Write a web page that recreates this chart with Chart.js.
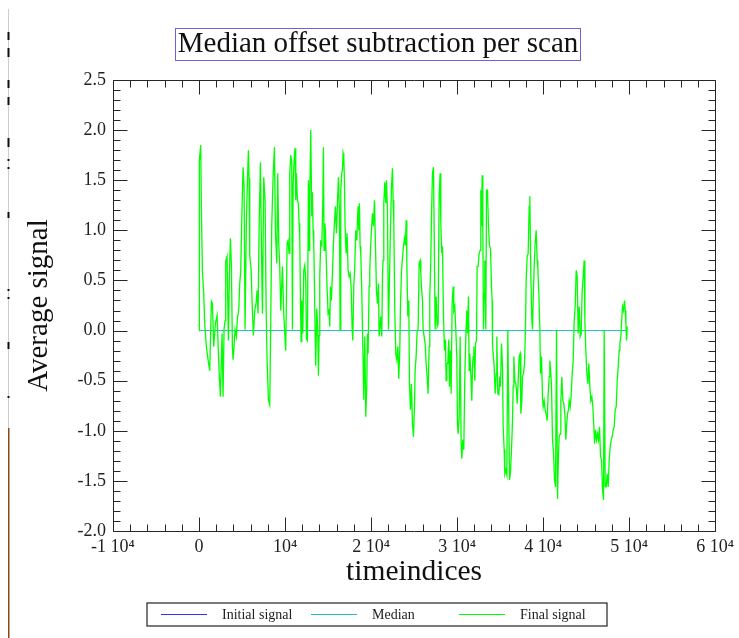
<!DOCTYPE html>
<html>
<head>
<meta charset="utf-8">
<script src="https://cdn.jsdelivr.net/npm/chart.js@4.4.1/dist/chart.umd.min.js"></script>
<style>
  html, body { margin: 0; padding: 0; background: #fff; }
  canvas { display: block; }
</style>
</head>
<body>
<canvas id="chart" width="739" height="638"></canvas>
<script>
var chartTitle = 'Median offset subtraction per scan';
var xTitle = 'timeindices';
var yTitle = 'Average signal';
var seriesNames = ['Initial signal', 'Median', 'Final signal'];
var seriesColors = ['#3030ff', '#22bcbc', '#00ff00'];

var xTickLabels = ['-1 10\u2074', '0', '10\u2074', '2 10\u2074', '3 10\u2074', '4 10\u2074', '5 10\u2074', '6 10\u2074'];
var yTickLabels = ['-2.0', '-1.5', '-1.0', '-0.5', '0.0', '0.5', '1.0', '1.5', '2.0', '2.5'];

// time index of each sample
var timeIndex = [
  0, 40, 198, 275, 392, 547, 663, 857, 1050, 1244,
  1438, 1555, 1710, 1904, 2097, 2330, 2485, 2679, 2795, 2911,
  3028, 3105, 3260, 3415, 3532, 3648, 3765, 3881, 3958, 4075,
  4191, 4346, 4462, 4618, 4734, 4850, 4966, 5121, 5237, 5354,
  5509, 5625, 5742, 5819, 5897, 6052, 6207, 6323, 6478, 6634,
  6750, 6866, 6982, 7137, 7254, 7370, 7525, 7680, 7796, 7912,
  8068, 8223, 8339, 8455, 8610, 8766, 8882, 9037, 9153, 9270,
  9386, 9502, 9696, 9851, 9967, 10083, 10239, 10355, 10471, 10548,
  10665, 10781, 10859, 10936, 11052, 11168, 11246, 11324, 11440, 11557,
  11633, 11711, 11789, 11866, 11944, 12060, 12177, 12293, 12409, 12487,
  12603, 12720, 12797, 12874, 12991, 13107, 13185, 13262, 13340, 13417,
  13495, 13572, 13689, 13805, 13883, 13960, 14037, 14154, 14270, 14386,
  14464, 14541, 14619, 14697, 14774, 14890, 15006, 15123, 15200, 15278,
  15394, 15511, 15627, 15744, 15860, 15976, 16093, 16209, 16325, 16402,
  16480, 16596, 16674, 16751, 16829, 16906, 16984, 17100, 17216, 17332,
  17449, 17565, 17681, 17798, 17875, 17992, 18108, 18224, 18341, 18418,
  18495, 18573, 18651, 18728, 18806, 18922, 19000, 19077, 19154, 19271,
  19387, 19503, 19581, 19658, 19775, 19852, 19930, 20046, 20163, 20279,
  20395, 20512, 20628, 20744, 20861, 20938, 21132, 21248, 21326, 21403,
  21481, 21597, 21713, 21791, 21907, 22024, 22256, 22373, 22489, 22566,
  22644, 22760, 22876, 22993, 23109, 23225, 23341, 23419, 23536, 23652,
  23768, 23884, 24001, 24078, 24156, 24272, 24388, 24466, 24582, 24699,
  24815, 24931, 25048, 25124, 25241, 25357, 25473, 25590, 25706, 25784,
  25861, 25978, 26055, 26171, 26287, 26404, 26520, 26636, 26753, 26830,
  26947, 27024, 27141, 27257, 27334, 27451, 27567, 27683, 27799, 27916,
  28032, 28110, 28226, 28304, 28420, 28536, 28653, 28730, 28808, 28924,
  29040, 29118, 29234, 29311, 29428, 29544, 29622, 29738, 29854, 29971,
  30048, 30125, 30242, 30358, 30474, 30552, 30668, 30784, 30901, 31017,
  31133, 31211, 31328, 31404, 31482, 31599, 31715, 31793, 31870, 31948,
  32064, 32142, 32258, 32335, 32451, 32568, 32684, 32762, 32840, 32917,
  32994, 33072, 33149, 33227, 33343, 33421, 33537, 33654, 33770, 33886,
  34003, 34079, 34119, 34196, 34312, 34428, 34545, 34622, 34739, 34855,
  34971, 35049, 35166, 35282, 35359, 35475, 35553, 35669, 35786, 35902,
  36096, 36212, 36329, 36445, 36522, 36600, 36716, 36832, 36910, 36987,
  37104, 37220, 37336, 37414, 37530, 37608, 37724, 37840, 37957, 38034,
  38150, 38266, 38383, 38460, 38577, 38693, 38771, 38848, 38964, 39081,
  39197, 39313, 39391, 39507, 39624, 39701, 39818, 39934, 40011, 40127,
  40244, 40360, 40476, 40593, 40709, 40786, 40903, 40981, 41097, 41213,
  41330, 41446, 41562, 41678, 41795, 41872, 41988, 42066, 42182, 42298,
  42415, 42531, 42647, 42725, 42841, 42958, 43035, 43151, 43267, 43384,
  43500, 43616, 43733, 43849, 43965, 44081, 44198, 44314, 44430, 44547,
  44663, 44779, 44857, 44973, 45089, 45206, 45322, 45438, 45555, 45671,
  45787, 45904, 45981, 46097, 46214, 46330, 46446, 46563, 46679, 46795,
  46912, 47028, 47105, 47221, 47338, 47454, 47570, 47687, 47803, 47919,
  48035, 48152, 48268, 48384, 48501, 48617, 48733, 48850, 48927, 49043,
  49121, 49237, 49354, 49470, 49547, 49625, 49702, 49780
];

// average signal after median subtraction
var finalSignal = [
  0.00, 1.70, 1.85, 1.22, 0.60, 0.37, 0.07, -0.16, -0.29, -0.40,
  0.29, 0.27, -0.16, 0.07, 0.15, -0.40, -0.66, -0.03, -0.66, 0.01,
  0.10, 0.69, 0.74, -0.10, 0.55, 0.92, 0.65, -0.16, -0.29, -0.16,
  0.01, -0.06, 0.12, 0.20, 0.47, 0.59, 1.10, 1.63, 1.44, 0.01,
  1.10, 1.47, 1.80, 1.52, 0.75, 0.62, 0.20, -0.05, 0.20, 0.27,
  0.40, 0.17, 1.00, 1.68, 0.87, 0.17, 1.53, 1.30, 0.27, -0.29,
  -0.69, -0.74, 0.09, 1.04, 1.53, 1.83, 1.00, 0.67, 1.57, 0.87,
  0.64, 0.20, 0.64, 0.17, -0.03, -0.20, 0.87, 0.90, 0.77, 1.57,
  1.75, 1.67, 0.01, 1.44, 1.70, 1.82, 1.30, 1.57, 1.30, 1.27,
  1.07, 0.94, 0.34, -0.11, 0.30, -0.03, 0.60, 0.65, 0.50, -0.08,
  -0.10, 1.50, 0.80, 1.34, 2.00, 1.14, 1.38, 1.00, 0.87, 0.47,
  0.01, -0.35, 0.22, 0.01, -0.45, -0.05, 0.54, 0.90, 0.84, 1.24,
  1.83, 0.80, 1.07, 1.00, 0.77, 0.42, 0.17, 0.20, 0.04, 0.44,
  0.30, 0.57, 0.87, 1.07, 1.24, 0.97, 1.27, 1.53, 1.17, 0.01,
  1.40, 1.57, 1.60, 1.77, 1.73, 1.50, 1.04, 0.77, 0.97, 0.60,
  0.54, 0.57, 0.44, 0.04, -0.10, 0.44, 0.64, 1.00, 0.90, 1.10,
  1.24, 1.00, 1.27, 0.84, 0.77, 0.40, 0.04, -0.30, -0.69, -0.06,
  -0.86, -0.56, -0.03, -0.23, 0.44, 0.60, 0.80, 1.00, 1.17, 1.04,
  1.30, 0.87, 0.40, 0.27, 0.47, -0.06, 0.14, -0.06, 0.54, 0.70,
  1.27, 1.48, 1.27, 1.50, 1.20, 0.01, 1.00, 1.43, 1.62, 1.30,
  1.08, 0.20, -0.23, -0.29, -0.16, -0.48, -0.19, 0.24, 0.59, 0.72,
  0.84, 0.92, 0.85, 1.10, 0.70, 0.14, 0.30, -0.53, -0.79, -0.53,
  -0.93, -1.06, -0.76, -0.40, -0.26, -0.01, 0.01, 0.67, 0.70, 0.57,
  0.44, 0.30, 0.01, -0.06, -0.13, -0.33, -0.46, -0.63, -0.16, 0.34,
  0.70, 1.13, 1.57, 1.63, 1.04, 0.01, 0.34, 0.04, 0.07, 1.34,
  1.57, 1.07, 0.77, 0.84, 0.14, -0.20, -0.09, -0.50, -0.33, -0.33,
  -0.09, -0.56, -0.20, -0.63, 0.27, 0.44, 0.20, 0.24, 0.01, -0.26,
  -0.93, -1.03, -0.86, -0.06, -1.13, -1.28, -1.09, -1.19, -0.46, -0.06,
  0.20, -0.03, 0.34, -0.40, -0.23, -0.43, -0.70, -0.36, -0.26, -0.16,
  -0.50, -0.13, -0.10, 0.64, 0.64, 0.77, 0.80, 1.40, 1.04, 1.55,
  1.04, 0.01, 0.37, 0.70, 0.01, 1.40, 1.40, 1.04, 0.84, 0.82,
  0.44, 0.30, -0.13, -0.23, -0.36, -0.63, -0.43, -0.06, -0.63, -0.64,
  -0.46, -0.56, -0.13, -0.36, -0.96, -1.19, -1.43, -1.39, -1.44, 0.00,
  -1.49, -1.41, -1.19, -0.90, -0.56, -0.26, -0.50, -0.53, -0.60, -0.73,
  -0.50, -0.26, -0.23, -0.83, -0.70, -0.46, -0.43, -0.33, 0.04, 0.50,
  0.74, 0.77, 1.24, 1.34, 0.54, 0.10, 0.01, 0.30, 0.64, 0.87,
  1.00, 0.70, 0.62, 0.37, 0.01, -0.43, -0.26, -0.66, -0.76, -0.70,
  -0.80, -0.83, -0.90, -0.63, -0.46, -0.30, -0.43, -0.56, -1.09, -1.23,
  -1.49, -1.56, 0.00, -1.68, -1.23, -1.06, -1.03, -0.70, -0.46, -0.70,
  -0.73, -0.83, -1.09, -0.96, -0.83, -0.79, -0.70, -0.76, -0.64, -0.43,
  -0.30, 0.10, 0.24, 0.60, 0.54, -0.03, 0.24, -0.06, -0.03, 0.40,
  0.54, 0.70, 0.10, -0.20, -0.43, -0.53, -0.33, -0.56, -0.70, -0.66,
  -0.76, -0.96, -1.13, -0.99, -1.09, -1.03, -1.09, -0.96, -1.26, -1.29,
  -1.59, -1.69, 0.00, -1.56, -1.56, -1.43, -1.56, -1.29, -1.16, -1.09,
  -1.06, -0.99, -0.96, -0.79, -0.76, -0.50, -0.36, -0.20, -0.13, -0.06,
  0.07, 0.24, 0.20, 0.30, 0.20, 0.07, -0.10, 0.04
];

// the median is zero everywhere, so the initial signal equals the final one
// and lies completely underneath it in the picture
var initialSignal = finalSignal.slice();
var medianTime = [0, 49780];
var medianValues = [0, 0];

var serif = '"Liberation Serif", "DejaVu Serif", serif';
var axisColor = '#262626';

function toPoints(xs, ys) {
    var pts = [];
    for (var i = 0; i < xs.length; i++) pts.push({ x: xs[i], y: ys[i] });
    return pts;
}

var decorPlugin = {
    id: 'decor',
    beforeDraw: function (chart) {
        var ctx = chart.ctx;
        ctx.save();
        ctx.fillStyle = '#ffffff';
        ctx.fillRect(0, 0, chart.width, chart.height);
        // window edge left over in the screenshot
        ctx.fillStyle = '#cccccc';
        ctx.fillRect(8, 9, 1, 419);
        ctx.fillStyle = '#111111';
        [[32, 8], [48, 9], [80, 8], [97, 8], [138, 9], [159, 2], [167, 2], [212, 6],
         [289, 2], [297, 2], [342, 7], [396, 2]].forEach(function (d) {
            ctx.fillRect(7.5, d[0], 2, d[1]);
        });
        ctx.fillStyle = '#8a4b12';
        ctx.fillRect(8, 428, 1.5, chart.height - 428);
        ctx.restore();
    },
    afterDraw: function (chart) {
        var ctx = chart.ctx, a = chart.chartArea;
        var xs = chart.scales.x, ys = chart.scales.y;
        ctx.save();

        // frame and inward ticks on all four sides
        ctx.strokeStyle = axisColor;
        ctx.lineWidth = 1;
        ctx.beginPath();
        var L = Math.round(a.left) + 0.5, R = Math.round(a.right) + 0.5;
        var T = Math.round(a.top) + 0.5, B = Math.round(a.bottom) + 0.5;
        ctx.rect(L, T, R - L, B - T);
        var i, p, len;
        for (i = -5; i <= 30; i++) {
            p = Math.round(xs.getPixelForValue(i * 2000)) + 0.5;
            len = (i % 5 === 0) ? 14 : 7;
            ctx.moveTo(p, B); ctx.lineTo(p, B - len);
            ctx.moveTo(p, T); ctx.lineTo(p, T + len);
        }
        for (i = -20; i <= 25; i++) {
            p = Math.round(ys.getPixelForValue(i / 10)) + 0.5;
            len = (i % 5 === 0) ? 14 : 7;
            ctx.moveTo(L, p); ctx.lineTo(L + len, p);
            ctx.moveTo(R, p); ctx.lineTo(R - len, p);
        }
        ctx.stroke();

        // boxed title
        ctx.font = '29px ' + serif;
        ctx.fillStyle = '#111';
        ctx.textAlign = 'center';
        ctx.textBaseline = 'alphabetic';
        ctx.fillText(chartTitle, 378, 52);
        ctx.strokeStyle = '#6f62d6';
        ctx.strokeRect(175.5, 28.5, 405, 32);

        // boxed legend along the bottom
        ctx.strokeStyle = '#333';
        ctx.lineWidth = 1.3;
        ctx.strokeRect(147, 603, 460, 23);
        var lineX = [161, 311, 459];
        ctx.font = '14px ' + serif;
        ctx.textAlign = 'left';
        chart.data.datasets.forEach(function (ds, k) {
            ctx.strokeStyle = ds.borderColor;
            ctx.lineWidth = 1.2;
            ctx.beginPath();
            ctx.moveTo(lineX[k], 614.5);
            ctx.lineTo(lineX[k] + 46, 614.5);
            ctx.stroke();
            ctx.fillStyle = '#222';
            ctx.fillText(ds.label, lineX[k] + 61, 619);
        });
        ctx.restore();
    }
};

new Chart(document.getElementById('chart').getContext('2d'), {
    type: 'line',
    data: {
        datasets: [
            { label: seriesNames[0], data: toPoints(timeIndex, initialSignal), borderColor: seriesColors[0], borderWidth: 1, hidden: true },
            { label: seriesNames[1], data: toPoints(medianTime, medianValues), borderColor: seriesColors[1], borderWidth: 1, order: 2 },
            { label: seriesNames[2], data: toPoints(timeIndex, finalSignal), borderColor: seriesColors[2], borderWidth: 1.3, order: 1 }
        ]
    },
    options: {
        responsive: false,
        animation: false,
        devicePixelRatio: 1,
        layout: { padding: { top: 80, right: 23, bottom: 0, left: 0 } },
        elements: { point: { radius: 0 }, line: { tension: 0, fill: false } },
        plugins: {
            legend: { display: false },
            title: { display: false },
            tooltip: { enabled: false }
        },
        scales: {
            x: {
                type: 'linear',
                min: -10000,
                max: 60000,
                afterFit: function (scale) { scale.height = 107; },
                grid: { display: false, drawTicks: false },
                border: { display: false },
                ticks: {
                    stepSize: 10000,
                    padding: 5,
                    maxRotation: 0,
                    autoSkip: false,
                    color: '#222',
                    font: { family: serif, size: 18 },
                    callback: function (value, index) { return xTickLabels[index]; }
                },
                title: {
                    display: true,
                    text: xTitle,
                    color: '#111',
                    font: { family: serif, size: 29.5 },
                    padding: { top: 0, bottom: 48 }
                }
            },
            y: {
                min: -2,
                max: 2.5,
                afterFit: function (scale) { scale.width = 113; },
                grid: { display: false, drawTicks: false },
                border: { display: false },
                ticks: {
                    stepSize: 0.5,
                    padding: 7,
                    autoSkip: false,
                    color: '#222',
                    font: { family: serif, size: 18 },
                    callback: function (value, index) { return yTickLabels[index]; }
                },
                title: {
                    display: true,
                    text: yTitle,
                    color: '#111',
                    font: { family: serif, size: 29 },
                    padding: { top: 22, bottom: 0 }
                }
            }
        }
    },
    plugins: [decorPlugin]
});
</script>
</body>
</html>
